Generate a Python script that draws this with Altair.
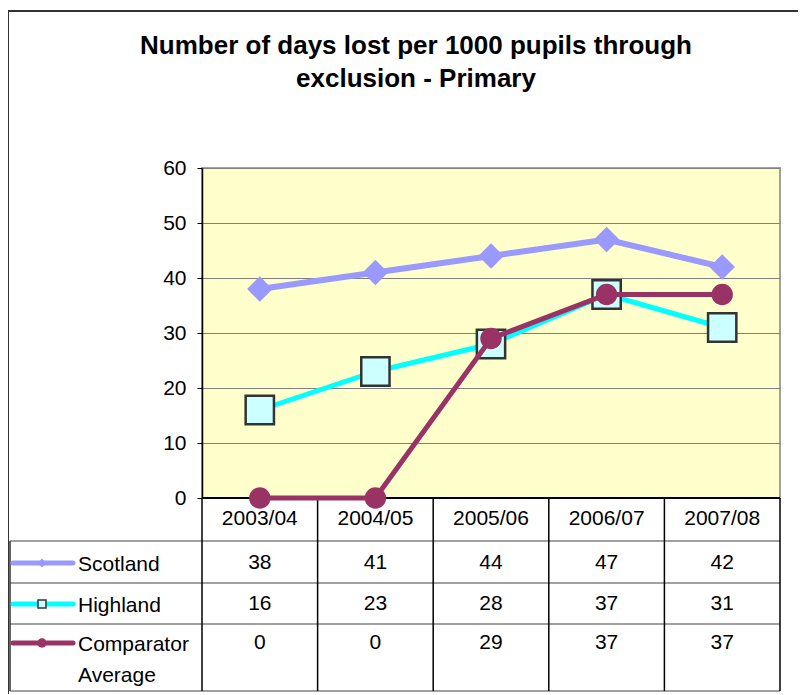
import altair as alt
import pandas as pd

# ---------------- data ----------------
categories = ["2003/04", "2004/05", "2005/06", "2006/07", "2007/08"]
series_names = ["Scotland", "Highland", "Comparator Average"]
scotland = [38, 41, 44, 47, 42]
highland = [16, 23, 28, 37, 31]
comparator = [0, 0, 29, 37, 37]
y_ticks = [0, 10, 20, 30, 40, 50, 60]
title_lines = ["Number of days lost per 1000 pupils through", "exclusion - Primary"]

# ---------------- layout / style ----------------
W, H = 578, 330
YMAX = 60
BAND = W / len(categories)
FONT = "Liberation Sans"
FS = 21

line_colors = {"Scotland": "#9999FF", "Highland": "#00FFFF", "Comparator Average": "#993366"}
row_center_px = {"Scotland": 65, "Highland": 106, "Comparator Average": 145}  # below x axis
row_lines_px = [43, 85, 126, 193]
legend_left_px = 192       # table extends this far left of plot
key_px = (-189, -129, -160)  # key line start, end, marker (relative to plot left)
label_px = -124


def ux(px):
    """pixel offset from the plot's left edge -> x data units"""
    return -0.5 + px / BAND


def uy(px):
    """pixel offset below the x axis -> y data units"""
    return -px * YMAX / H


xscale = alt.Scale(domain=[-0.5, len(categories) - 0.5], nice=False, zero=False)
yscale = alt.Scale(domain=[0, YMAX], nice=False, zero=False)
yaxis = alt.Axis(values=y_ticks, title=None, grid=True, gridColor="#7F7F7F", gridWidth=1,
                 domain=True, domainColor="#000000", domainWidth=1.5,
                 ticks=True, tickColor="#000000", tickSize=5, tickWidth=1,
                 labelFont=FONT, labelFontSize=FS, labelColor="#000000", labelPadding=11)


def X(field):
    return alt.X(field, type="quantitative", scale=xscale, axis=None)


def X2(field):
    return alt.X2(field)


def Y(field):
    return alt.Y(field, type="quantitative", scale=yscale, axis=yaxis)


def Y2(field):
    return alt.Y2(field)


series_vals = {"Scotland": scotland, "Highland": highland, "Comparator Average": comparator}
rows = []
for s in series_names:
    for i, c in enumerate(categories):
        v = series_vals[s][i]
        rows.append({"i": i, "category": c, "series": s, "value": v,
                     "label": str(v), "ty": uy(row_center_px[s])})
df = pd.DataFrame(rows)

# ---------------- table grid ----------------
vlines = pd.DataFrame({"x": [k - 0.5 for k in range(len(categories) + 1)],
                       "y": [0] * (len(categories) + 1),
                       "y2": [uy(row_lines_px[-1])] * (len(categories) + 1)})
hlines = pd.DataFrame({"y": [uy(p) for p in row_lines_px],
                       "x": [ux(-legend_left_px)] * len(row_lines_px),
                       "x2": [len(categories) - 0.5] * len(row_lines_px)})
left_border = pd.DataFrame({"x": [ux(-legend_left_px)], "y": [uy(row_lines_px[0])],
                            "y2": [uy(row_lines_px[-1])]})
xaxis_line = pd.DataFrame({"x": [-0.5], "x2": [len(categories) - 0.5], "y": [0]})

layers = []
layers.append(alt.Chart(hlines).mark_rule(color="#808080", strokeWidth=1.5).encode(
    x=X("x"), x2=X2("x2"), y=Y("y")))
layers.append(alt.Chart(vlines).mark_rule(color="#000000", strokeWidth=1.5).encode(
    x=X("x"), y=Y("y"), y2=Y2("y2")))
layers.append(alt.Chart(left_border).mark_rule(color="#333333", strokeWidth=1.5).encode(
    x=X("x"), y=Y("y"), y2=Y2("y2")))
layers.append(alt.Chart(xaxis_line).mark_rule(color="#000000", strokeWidth=2).encode(
    x=X("x"), x2=X2("x2"), y=Y("y")))

# ---------------- series ----------------
marker_style = {
    "Scotland": dict(shape="diamond", size=650, filled=True, fill="#9999FF", stroke=None),
    "Highland": dict(shape="square", size=800, filled=True, fill="#CCFFFF", stroke="#333333", strokeWidth=2.5),
    "Comparator Average": dict(shape="circle", size=460, filled=True, fill="#993366", stroke=None),
}
line_width = {"Scotland": 6, "Highland": 5, "Comparator Average": 5}

for s in series_names:
    base = alt.Chart(df).transform_filter(alt.datum.series == s)
    layers.append(base.mark_line(color=line_colors[s], strokeWidth=line_width[s]).encode(
        x=X("i"), y=Y("value")))
    st = {k: v for k, v in marker_style[s].items() if v is not None}
    layers.append(base.mark_point(opacity=1, **st).encode(x=X("i"), y=Y("value")))

# ---------------- table text ----------------
cat_df = pd.DataFrame({"i": list(range(len(categories))), "category": categories,
                       "ty": [uy(21)] * len(categories)})
layers.append(alt.Chart(cat_df).mark_text(font=FONT, fontSize=FS, color="#000000",
                                          align="center", baseline="middle").encode(
    x=X("i"), y=Y("ty"), text="category:N"))
layers.append(alt.Chart(df).mark_text(font=FONT, fontSize=FS, color="#000000",
                                      align="center", baseline="middle").encode(
    x=X("i"), y=Y("ty"), text="label:N"))

# ---------------- legend keys ----------------
leg = pd.DataFrame({
    "series": series_names,
    "x1": [ux(key_px[0])] * 3,
    "x2": [ux(key_px[1])] * 3,
    "xm": [ux(key_px[2])] * 3,
    "xl": [ux(label_px)] * 3,
    "ty": [uy(row_center_px[s]) for s in series_names],
    "tl": [uy(row_center_px[s] - 0.43 * FS) for s in series_names],
    "text": [s.replace(" ", "\n") for s in series_names],
})
key_marker = {
    "Scotland": dict(shape="diamond", size=80, filled=True, fill="#9999FF"),
    "Highland": dict(shape="square", size=64, filled=True, fill="#CCFFFF", stroke="#333333", strokeWidth=1.5),
    "Comparator Average": dict(shape="circle", size=90, filled=True, fill="#993366"),
}
for s in series_names:
    b = alt.Chart(leg).transform_filter(alt.datum.series == s)
    layers.append(b.mark_rule(color=line_colors[s], strokeWidth=5, strokeCap="round").encode(
        x=X("x1"), x2=X2("x2"), y=Y("ty")))
    layers.append(b.mark_point(opacity=1, **key_marker[s]).encode(x=X("xm"), y=Y("ty")))
layers.append(alt.Chart(leg).mark_text(font=FONT, fontSize=FS, color="#000000", align="left",
                                       baseline="top", lineBreak="\n", lineHeight=31).encode(
    x=X("xl"), y=Y("tl"), text="text:N"))

# ---------------- title & frame ----------------
layers.append(alt.Chart(pd.DataFrame({"t": [0]})).mark_text(
    text=title_lines, font=FONT, fontSize=26, fontWeight="bold", color="#000000",
    align="center", baseline="middle", lineHeight=33).encode(
    x=alt.value(214), y=alt.value(-122)))
layers.append(alt.Chart(pd.DataFrame({"t": [0]})).mark_rule(color="#333333", strokeWidth=2).encode(
    x=alt.value(-194), y=alt.value(-157), y2=alt.value(H + 200)))
layers.append(alt.Chart(pd.DataFrame({"t": [0]})).mark_rule(color="#333333", strokeWidth=2).encode(
    x=alt.value(-194), x2=alt.value(W + 40), y=alt.value(-157)))

chart = alt.layer(*layers).properties(
    width=W, height=H,
    autosize=alt.AutoSizeParams(type="none"),
    padding={"left": 194, "top": 160, "right": 18, "bottom": 196},
    background="#FFFFFF",
).configure_view(fill="#FFFFCC", stroke="#A0A0A0", strokeWidth=2)

chart.save("out.html", embed_options={"renderer": "svg", "actions": False})
